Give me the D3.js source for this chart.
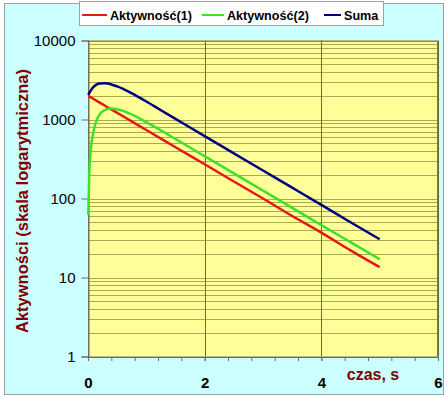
<!DOCTYPE html>
<html>
<head>
<meta charset="utf-8">
<script src="https://cdn.jsdelivr.net/npm/d3@7"></script>
<style>
  html, body { margin: 0; padding: 0; background: #ffffff; }
  svg { display: block; font-family: Arial, "Liberation Sans", sans-serif; }
</style>
</head>
<body>
<div id="chart"></div>
<script>
"use strict";
// time points (s) and activities
const czas = [0.005, 0.02, 0.05, 0.1, 0.15, 0.2, 0.3, 0.4, 0.5, 0.6, 0.8, 1.0, 1.25, 1.5, 2, 2.5, 3, 3.5, 4, 4.5, 5];
const aktywnosc1 = [1990, 1960, 1902, 1810, 1721, 1637, 1482, 1341, 1213, 1098, 899, 736, 573, 446, 271, 164, 100, 60, 37, 22, 13.5];
const aktywnosc2 = [62, 185, 425, 740, 990, 1160, 1330, 1380, 1350, 1285, 1110, 925, 728, 566, 343, 208, 126, 76, 46, 28, 17];
const suma = [2052, 2150, 2340, 2600, 2780, 2860, 2870, 2780, 2620, 2440, 2050, 1690, 1310, 1020, 616, 373, 226, 137, 83, 50, 30.5];
const seriesNames = ['Aktywność(1)', 'Aktywność(2)', 'Suma'];
const seriesColors = ['#e41a12', '#3ee02a', '#000080'];
const xTicks = [0, 2, 4, 6];
const yTicks = [1, 10, 100, 1000, 10000];

const W = 447, H = 399;
const m = { left: 88, right: 438, top: 40.5, bottom: 356.5 };

const svg = d3.select('#chart').append('svg').attr('width', W).attr('height', H);

// outer chart area
svg.append('rect').attr('x', 4.5).attr('y', 3.5).attr('width', 439).attr('height', 391)
  .attr('fill', '#ccffff').attr('stroke', '#a0a0a0').attr('stroke-width', 1);

const x = d3.scaleLinear().domain([0, 6]).range([m.left, m.right]);
const y = d3.scaleLog().domain([1, 10000]).range([m.bottom, m.top]);

// plot area
svg.append('rect').attr('x', m.left).attr('y', m.top)
  .attr('width', m.right - m.left).attr('height', m.bottom - m.top).attr('fill', '#ffff99');

// horizontal grid at 1..9 of every decade
const minorY = [];
for (let d = 1; d < 10000; d *= 10) for (let k = 1; k <= 9; k++) minorY.push(d * k);
minorY.push(10000);
svg.append('g').selectAll('line').data(minorY).enter().append('line')
  .attr('x1', m.left).attr('x2', m.right)
  .attr('y1', (d) => Math.round(y(d)) + 0.5).attr('y2', (d) => Math.round(y(d)) + 0.5)
  .attr('stroke', '#939345').attr('stroke-width', 0.8);

// vertical grid at major x
svg.append('g').selectAll('line').data(xTicks.slice(1)).enter().append('line')
  .attr('x1', (d) => Math.round(x(d)) + 0.5).attr('x2', (d) => Math.round(x(d)) + 0.5)
  .attr('y1', m.top).attr('y2', m.bottom)
  .attr('stroke', '#6b6b3a').attr('stroke-width', 1);

// plot frame
svg.append('rect').attr('x', m.left + 0.5).attr('y', m.top + 0.5)
  .attr('width', m.right - m.left - 1).attr('height', m.bottom - m.top)
  .attr('fill', 'none').attr('stroke', '#7a7a44').attr('stroke-width', 1);

// y axis
const yAxis = svg.append('g').attr('transform', 'translate(' + (m.left + 0.5) + ',0)')
  .call(d3.axisLeft(y).tickValues(yTicks).tickFormat(d3.format('d')).tickSize(7).tickPadding(6));
yAxis.select('.domain').attr('stroke', '#6a6a6a');
yAxis.selectAll('.tick line').attr('stroke', '#6a6a6a');
yAxis.selectAll('text').attr('font-size', 15).attr('fill', '#000').attr('font-family', 'Arial, "Liberation Sans", sans-serif');

// x axis with minor ticks every 0.4
const minorX = d3.range(0, 6.01, 0.4);
const xMinor = svg.append('g').attr('transform', 'translate(0,' + (m.bottom + 0.5) + ')')
  .call(d3.axisBottom(x).tickValues(minorX).tickFormat('').tickSize(4));
xMinor.select('.domain').attr('stroke', '#6a6a6a');
xMinor.selectAll('.tick line').attr('stroke', '#6a6a6a');
const xAxis = svg.append('g').attr('transform', 'translate(0,' + (m.bottom + 0.5) + ')')
  .call(d3.axisBottom(x).tickValues(xTicks).tickFormat(d3.format('d')).tickSize(4).tickPadding(16));
xAxis.select('.domain').remove();
xAxis.selectAll('.tick line').attr('stroke', '#6a6a6a');
xAxis.selectAll('text').attr('font-size', 15).attr('font-weight', 'bold').attr('fill', '#000')
  .attr('font-family', 'Arial, "Liberation Sans", sans-serif');

// series
const seriesValues = [aktywnosc1, aktywnosc2, suma];
const line = d3.line().curve(d3.curveMonotoneX).x((d) => x(d[0])).y((d) => y(d[1]));
seriesValues.forEach((vals, i) => {
  svg.append('path').datum(czas.map((t, j) => [t, vals[j]]))
    .attr('d', line).attr('fill', 'none')
    .attr('stroke', seriesColors[i]).attr('stroke-width', 2.5).attr('stroke-linejoin', 'round');
});

// axis titles
svg.append('text').attr('x', 373).attr('y', 380).attr('text-anchor', 'middle')
  .attr('font-size', 16).attr('font-weight', 'bold').attr('fill', '#800000').text('czas, s');
svg.append('text').attr('transform', 'translate(28,201) rotate(-90)').attr('text-anchor', 'middle')
  .attr('font-size', 16.5).attr('font-weight', 'bold').attr('fill', '#800000')
  .text('Aktywności (skala logarytmiczna)');

// legend
const legend = svg.append('g');
legend.append('rect').attr('x', 79.5).attr('y', 1.5).attr('width', 304).attr('height', 24)
  .attr('fill', '#ffffff').attr('stroke', '#a0a0a0');
const legX = [82, 202, 324];
const legLen = [25, 22, 17];
seriesNames.forEach((name, i) => {
  legend.append('line').attr('x1', legX[i]).attr('x2', legX[i] + legLen[i]).attr('y1', 15).attr('y2', 15)
    .attr('stroke', seriesColors[i]).attr('stroke-width', 2);
  legend.append('text').attr('x', legX[i] + legLen[i] + 3).attr('y', 19.5)
    .attr('font-size', 12.6).attr('font-weight', 'bold').attr('fill', '#000').text(name);
});
</script>
</body>
</html>
